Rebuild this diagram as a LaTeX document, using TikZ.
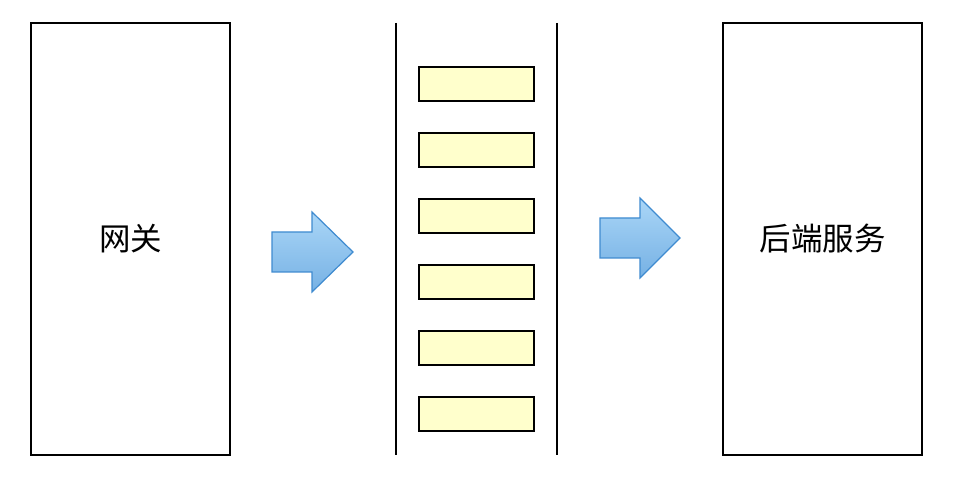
\documentclass[tikz,border=0pt]{standalone}
\usepackage{fontspec}
\newfontfamily\cjk{Noto Sans CJK SC}
\usepackage{xcolor}
\usepackage{tikz}
\usetikzlibrary{positioning, calc}
\definecolor{msgyellow}{HTML}{FFFFCC}
\definecolor{arrowtop}{HTML}{AAD6F7}
\definecolor{arrowbot}{HTML}{76B1E4}
\definecolor{arrowline}{HTML}{3F8BD0}
\tikzset{
  server/.style={draw, line width=1.6pt, minimum width=199pt, minimum height=432pt,
    inner sep=0pt, font=\cjk\fontsize{31.5}{36}\selectfont},
  msg/.style={draw, line width=1.6pt, fill=msgyellow, minimum width=115pt,
    minimum height=34pt, inner sep=0pt},
  bigarrow/.style={draw=arrowline, line width=1.2pt, top color=arrowtop,
    bottom color=arrowbot, line join=miter}
}

\begin{document}
\begin{tikzpicture}[x=1pt, y=-1pt]
    \useasboundingbox (0,0) rectangle (958,486);

    % Gateway and backend
    \node[server] (gateway) at (130.5,239) {网关};
    \node[server] (backend) at (822.5,239) {后端服务};

    % Queue
    \draw[line width=1.6pt] (396,23) -- (396,455);
    \draw[line width=1.6pt] (557,23) -- (557,455);
    \foreach \i in {0,...,5}
      \node[msg] (msg\i) at (476.5,84+66*\i) {};

    % Arrows
    \draw[bigarrow] (272,232) -- ++(40,0) -- ++(0,-20) -- (353,252) -- (312,292)
      -- ++(0,-20) -- ++(-40,0) -- cycle;
    \draw[bigarrow] (600,218) -- ++(40,0) -- ++(0,-20) -- (680,238) -- (640,278)
      -- ++(0,-20) -- ++(-40,0) -- cycle;
\end{tikzpicture}
\end{document}
